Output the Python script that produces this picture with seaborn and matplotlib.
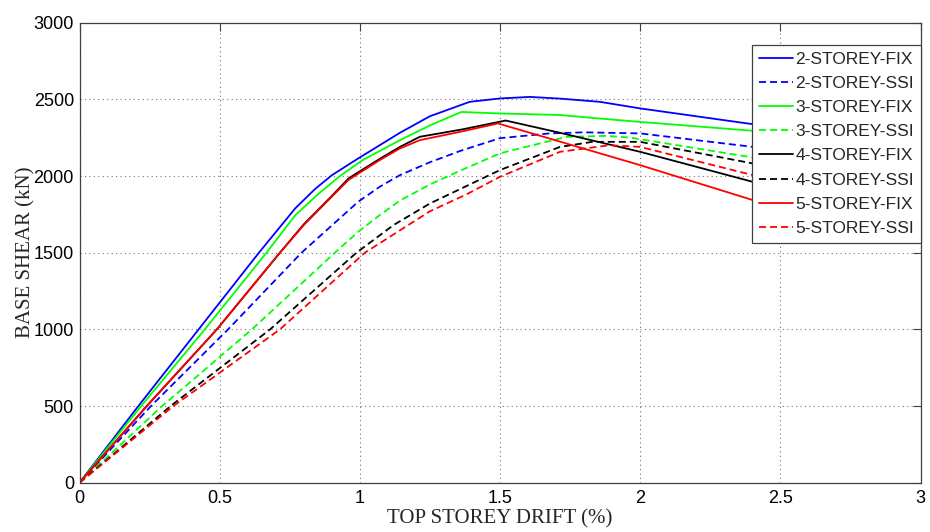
import matplotlib
matplotlib.use("Agg")
import matplotlib.pyplot as plt
import pandas as pd
import seaborn as sns

# ---------------- data ----------------
series_names = ["2-STOREY-FIX", "2-STOREY-SSI", "3-STOREY-FIX", "3-STOREY-SSI",
                "4-STOREY-FIX", "4-STOREY-SSI", "5-STOREY-FIX", "5-STOREY-SSI"]
series_colors = ["#0000ff", "#0000ff", "#00ff00", "#00ff00",
                 "#000000", "#000000", "#ff0000", "#ff0000"]

drift_2fix = [0, 0.21, 0.425, 0.64, 0.77, 0.84, 0.90, 0.99, 1.143, 1.25, 1.392, 1.5, 1.607, 1.714, 1.856, 2.0, 2.402, 2.45]
shear_2fix = [0, 500, 1000, 1500, 1790, 1915, 2005, 2110, 2282, 2390, 2484, 2506, 2516, 2505, 2484, 2441, 2338, 2326]

drift_2ssi = [0, 0.255, 0.53, 0.792, 0.994, 1.071, 1.143, 1.25, 1.36, 1.5, 1.677, 1.80, 2.0, 2.402, 2.45]
shear_2ssi = [0, 500, 1000, 1500, 1832, 1930, 2006, 2090, 2165, 2247, 2278, 2285, 2278, 2190, 2180]

drift_3fix = [0, 0.22, 0.447, 0.667, 0.77, 0.85, 0.929, 1.01, 1.143, 1.25, 1.362, 1.5, 1.714, 1.856, 2.0, 2.402, 2.45]
shear_3fix = [0, 500, 1000, 1500, 1745, 1880, 2000, 2104, 2234, 2330, 2418, 2408, 2398, 2375, 2353, 2295, 2288]

drift_3ssi = [0, 0.295, 0.615, 0.911, 0.994, 1.071, 1.143, 1.25, 1.362, 1.5, 1.736, 1.88, 1.963, 2.402, 2.45]
shear_3ssi = [0, 500, 1000, 1500, 1636, 1745, 1840, 1945, 2038, 2148, 2255, 2262, 2251, 2121, 2110]

drift_4fix = [0, 0.24, 0.49, 0.715, 0.80, 0.90, 0.96, 1.071, 1.143, 1.214, 1.368, 1.52, 1.714, 2.0, 2.402, 2.45]
shear_4fix = [0, 500, 1000, 1500, 1685, 1870, 1985, 2112, 2190, 2256, 2305, 2362, 2282, 2158, 1962, 1940]

drift_4ssi = [0, 0.325, 0.68, 0.988, 1.12, 1.25, 1.5, 1.714, 1.83, 2.0, 2.402, 2.45]
shear_4ssi = [0, 500, 1000, 1500, 1680, 1821, 2039, 2190, 2223, 2223, 2082, 2065]

drift_5fix = [0, 0.24, 0.49, 0.715, 0.80, 0.90, 0.96, 1.071, 1.143, 1.214, 1.357, 1.493, 2.0, 2.402, 2.45]
shear_5fix = [0, 500, 1000, 1500, 1680, 1865, 1975, 2104, 2180, 2234, 2288, 2343, 2071, 1843, 1815]

drift_5ssi = [0, 0.335, 0.715, 1.018, 1.25, 1.38, 1.5, 1.714, 1.89, 2.0, 2.402, 2.45]
shear_5ssi = [0, 500, 1000, 1500, 1770, 1880, 1995, 2158, 2201, 2190, 2006, 1985]

x_ticks = [0, 0.5, 1, 1.5, 2, 2.5, 3]
x_tick_labels = ["0", "0.5", "1", "1.5", "2", "2.5", "3"]
y_ticks = [0, 500, 1000, 1500, 2000, 2500, 3000]
y_tick_labels = ["0", "500", "1000", "1500", "2000", "2500", "3000"]

drifts = [drift_2fix, drift_2ssi, drift_3fix, drift_3ssi,
          drift_4fix, drift_4ssi, drift_5fix, drift_5ssi]
shears = [shear_2fix, shear_2ssi, shear_3fix, shear_3ssi,
          shear_4fix, shear_4ssi, shear_5fix, shear_5ssi]

rows = []
for name, xs, ys in zip(series_names, drifts, shears):
    for i, (xv, yv) in enumerate(zip(xs, ys)):
        rows.append({"series": name, "order": i, "drift": xv, "shear": yv})
df = pd.DataFrame(rows)

# ---------------- style ----------------
sns.set_style("white")
plt.rcParams["font.family"] = ["Liberation Sans", "DejaVu Sans"]

fig = plt.figure(figsize=(9.30, 5.32), dpi=100)
ax = fig.add_axes([79.5 / 930, 1 - 482.7 / 532, 841 / 930, 460 / 532])

palette = dict(zip(series_names, series_colors))
dash_pat = (3.9, 2.2)
dashes = {n: ("" if n.endswith("FIX") else dash_pat) for n in series_names}

sns.lineplot(data=df, x="drift", y="shear", hue="series", style="series",
             hue_order=series_names, style_order=series_names,
             palette=palette, dashes=dashes, sort=False, estimator=None,
             units="series", linewidth=1.3, ax=ax, legend=False)

ax.set_xlim(0, 3)
ax.set_ylim(0, 3000)
ax.set_xticks(x_ticks)
ax.set_xticklabels(x_tick_labels)
ax.set_yticks(y_ticks)
ax.set_yticklabels(y_tick_labels)

ax.grid(True, linestyle=(0, (1, 3)), color="0.45", linewidth=0.8)
ax.set_axisbelow(True)

for s in ax.spines.values():
    s.set_visible(True)
    s.set_color("0.25")
    s.set_linewidth(0.9)

ax.tick_params(axis="both", which="both", direction="in", length=6, width=0.8,
               color="0.25", top=True, right=True, labelsize=13,
               labelcolor="black")
ax.tick_params(axis="x", pad=5)
ax.tick_params(axis="y", pad=4)

ax.set_xlabel("TOP STOREY DRIFT (%)", fontsize=15,
              family=["Liberation Serif", "DejaVu Serif"])
ax.set_ylabel("BASE SHEAR (kN)", fontsize=15,
              family=["Liberation Serif", "DejaVu Serif"])
ax.xaxis.set_label_coords(0.5, -0.058)
ax.yaxis.set_label_coords(-0.052, 0.5)

# legend
from matplotlib.lines import Line2D
handles = []
for n, c in zip(series_names, series_colors):
    h = Line2D([0], [0], color=c, linewidth=1.3)
    if not n.endswith("FIX"):
        h.set_dashes(dash_pat)
    handles.append(h)
leg = ax.legend(handles, series_names, loc="upper right",
                bbox_to_anchor=(1.0, (482.7 - 45) / 460), borderaxespad=0,
                fontsize=12.5, frameon=True, fancybox=False, framealpha=1,
                edgecolor="0.25", handlelength=1.95, handletextpad=0.15,
                labelspacing=0.52, borderpad=0.38)
leg.get_frame().set_linewidth(0.9)

fig.savefig("out.png", dpi=100, facecolor="white")
